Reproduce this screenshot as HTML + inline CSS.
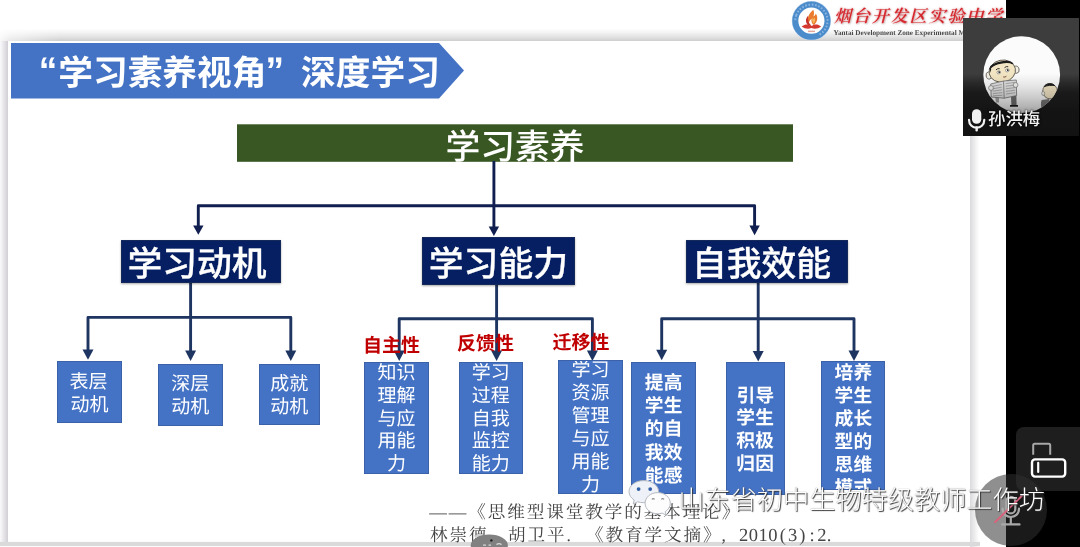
<!DOCTYPE html>
<html lang="zh-CN">
<head>
<meta charset="utf-8">
<title>学习素养视角 深度学习</title>
<style>
html,body{margin:0;padding:0;}
html{width:1080px;height:547px;overflow:hidden;background:#fff;}
body{width:1080px;height:547px;overflow:hidden;position:relative;background:#fff;
  font-family:"Liberation Sans","Noto Sans CJK SC",sans-serif;color:#fff;text-rendering:geometricPrecision;}
.abs{position:absolute;}
/* top strip behind logo */
#topstrip{left:0;top:0;width:1006px;height:40.6px;background:linear-gradient(#fff 0,#fff 28.5px,#f3f3f3 32.5px,#e2e2e2 37px,#d0d0d0 40.6px);}
#tlfade{left:0;top:26px;width:60px;height:14.6px;background:linear-gradient(90deg,rgba(255,255,255,.85) 0,rgba(255,255,255,.55) 10px,rgba(255,255,255,0) 60px);}
#lband{left:0;top:40.6px;width:8.3px;height:503px;background:linear-gradient(90deg,#faf9fb 0,#e6e4e8 4px,#cfcdd2 8.3px);}
#rband{left:970px;top:40.6px;width:9.6px;height:506.4px;background:linear-gradient(90deg,#dad9dc 0,#e6e5e7 3px,#fbfbfb 8px,#fff 9.6px);}
#bband{left:0;top:542.4px;width:1006px;height:3.6px;background:#dadada;box-shadow:0 0 1px #dadada;}
/* slide card */
#slide{left:8.3px;top:40.6px;width:961.7px;height:502px;background:#fff;}
#rightwhite{left:979.6px;top:40.6px;width:26.4px;height:506.4px;background:#fff;}
#black{left:1006px;top:0;width:74px;height:547px;background:#000;}
/* boxes */
.l2{-webkit-text-stroke:.3px #fff;background:#061f62;border:1px solid #15295a;box-sizing:border-box;color:#fff;font-size:34.8px;font-weight:500;line-height:40px;text-align:center;white-space:nowrap;
  box-shadow:0 1px 2px rgba(0,0,0,.35);}
.l3{background:#4472c4;border:1px solid #3b62a8;box-sizing:border-box;color:#fff;font-size:19px;line-height:22.9px;
  text-align:center;overflow:hidden;}
.l3.b{font-weight:bold;font-size:18.7px;letter-spacing:.3px;text-indent:.3px;}
.red{color:#c00000;font-weight:bold;font-size:19px;line-height:20px;white-space:nowrap;}
.cite{font-family:"Liberation Serif","Noto Serif CJK SC",serif;color:#454545;font-size:17.6px;line-height:18px;white-space:nowrap;letter-spacing:1.9px;}
.cite i{font-style:normal;display:inline-block;width:19.5px;text-align:left;letter-spacing:0;}
.cite .n{font-size:18.5px;letter-spacing:.5px;}
.cite .n i{width:9.75px;text-align:center;}

#tile{left:963px;top:18px;width:116px;height:118px;background:#3d3d3d;overflow:hidden;}
#tilegrad1{left:0;top:0;width:116px;height:118px;background:linear-gradient(rgba(0,0,0,0) 0,rgba(0,0,0,0) 56px,rgba(0,0,0,.25) 64px,rgba(0,0,0,.5) 74px,rgba(0,0,0,.54) 118px);}
#tilegrad{left:0;top:0;width:116px;height:118px;background:linear-gradient(rgba(0,0,0,0) 0,rgba(0,0,0,0) 55px,rgba(0,0,0,.08) 67px,rgba(0,0,0,.17) 77px,rgba(0,0,0,.27) 87px,rgba(0,0,0,.33) 92px,rgba(0,0,0,.36) 118px);}
#uname{left:25px;top:90.5px;font-size:17.4px;font-weight:500;line-height:20px;color:#f2f2f2;text-shadow:0 0 2px rgba(0,0,0,.85),0 0 3px rgba(0,0,0,.6);white-space:nowrap;}
#logotxt{left:834px;top:5px;font-family:"Liberation Serif","Noto Serif CJK SC",serif;font-weight:600;font-style:italic;font-size:17px;line-height:24px;color:#d5272e;white-space:nowrap;letter-spacing:1.9px;text-shadow:0 0 2px rgba(225,110,110,.9),1px 1px 2px rgba(120,120,120,.45);}
#logoen{left:833.5px;top:29px;font-family:"Liberation Serif",serif;font-weight:bold;font-size:7.2px;line-height:9px;color:#4a4a4a;white-space:nowrap;}
#wm{left:678.3px;top:484px;font-size:26.2px;line-height:32px;font-weight:300;color:#fff;white-space:nowrap;letter-spacing:0;
  text-shadow:1px 1px 1px rgba(45,45,45,.95),0 0 1px rgba(80,80,80,.75);}
#sharebtn{left:1016px;top:427px;width:64px;height:64px;border-radius:8px 0 0 8px;background:#1e1e1e;}
#micbtn{left:974.5px;top:473.5px;width:72px;height:72px;border-radius:50%;background:rgba(48,48,48,.54);}
</style>
</head>
<body>
<div class="abs" id="topstrip"></div>
<div class="abs" id="tlfade"></div>
<div class="abs" id="lband"></div>
<div class="abs" id="rband"></div>
<div class="abs" id="slide"></div>
<div class="abs" id="bband"></div>
<div class="abs" id="rightwhite"></div>
<div class="abs" id="black"></div>

<div class="abs" id="fx" style="left:0;top:0;width:1080px;height:547px;overflow:hidden;filter:blur(.55px);">
<!-- shapes: banner, green bar, connectors -->
<svg class="abs" style="left:0;top:0" width="1080" height="547" viewBox="0 0 1080 547">
  <polygon points="11,43 439,43 464,70.5 439,98.5 11,98.5" fill="#4472c4"/>
  <rect x="237" y="124.3" width="556" height="37.5" fill="#385723"/>
  <g fill="none" stroke="#111f50" stroke-width="2.9" stroke-linejoin="round">
    <!-- level 1 -> level 2 -->
    <path d="M493.9 161 V228"/>
    <path d="M198.3 228 V205.8 H754.6 V228"/>
  </g>
  <g fill="none" stroke="#1f3561" stroke-width="2.9" stroke-linejoin="round">
    <!-- level 2 -> level 3 left -->
    <path d="M190.6 282 V352"/>
    <path d="M88 351 V317.4 H290.8 V352"/>
    <!-- middle -->
    <path d="M496.6 285 V352"/>
    <path d="M399.2 352 V318.7 H592.4 V352"/>
    <!-- right -->
    <path d="M758.2 283 V352"/>
    <path d="M661.7 351 V318.7 H854 V352"/>
  </g>
  <g fill="#111f50">
    <polygon points="488.7,226.6 499.1,226.6 493.9,236"/>
    <polygon points="193.1,225.4 203.5,225.4 198.3,234.8"/>
    <polygon points="749.4,225.6 759.8,225.6 754.6,235.2"/>
  </g>
  <g fill="#1f3561">
    <polygon points="82.5,349.6 93.5,349.6 88,359.8"/>
    <polygon points="185.1,350.6 196.1,350.6 190.6,361"/>
    <polygon points="285.3,350.6 296.3,350.6 290.8,361"/>
    <polygon points="393.7,350.6 404.7,350.6 399.2,361"/>
    <polygon points="491.1,350.6 502.1,350.6 496.6,361"/>
    <polygon points="586.9,350.6 597.9,350.6 592.4,361"/>
    <polygon points="656.2,349.8 667.2,349.8 661.7,360.2"/>
    <polygon points="752.7,351 763.7,351 758.2,361.5"/>
    <polygon points="848.5,350.6 859.5,350.6 854,361"/>
  </g>
</svg>

<!-- title -->
<div class="tx abs" id="title" style="left:23.6px;top:51.5px;height:44px;line-height:44px;font-size:34.7px;font-weight:bold;white-space:nowrap;"><span style="display:inline-block;width:34.7px;text-align:right;position:relative;top:-1.8px;left:-1px;font-size:37px;line-height:0;">“</span>学习素养视角<span style="display:inline-block;width:34.7px;text-align:left;position:relative;top:-1.8px;left:-1px;font-size:37px;line-height:0;">”</span>深度学习</div>

<div class="tx abs" id="root" style="left:237px;top:126.5px;width:556px;height:38px;line-height:41px;font-size:34.8px;font-weight:500;text-align:center;">学习素养</div>

<div id="tl1" class="tx abs l2" style="left:120.5px;top:240px;width:160px;height:42.5px;line-height:47px;text-indent:-7px;">学习动机</div>
<div id="tl2" class="tx abs l2" style="left:421.8px;top:236.8px;width:153.2px;height:48.6px;line-height:53px;text-indent:0px;">学习能力</div>
<div id="tl3" class="tx abs l2" style="left:685.5px;top:240px;width:162px;height:43px;line-height:47px;text-indent:-10px;">自我效能</div>

<!-- level 3 left -->
<div id="tb4" class="tx abs l3" style="left:57px;top:361px;width:65px;height:62px;padding-top:9.8px;text-indent:-2px;">表层<br>动机</div>
<div id="tb5" class="tx abs l3" style="left:158px;top:363.5px;width:64.5px;height:62px;padding-top:9.5px;">深层<br>动机</div>
<div id="tb6" class="tx abs l3" style="left:258.5px;top:363.5px;width:61.5px;height:61.5px;padding-top:9.5px;">成就<br>动机</div>

<!-- level 3 middle -->
<div id="tb7" class="tx abs l3" style="left:364.3px;top:361.7px;width:64.6px;height:112.5px;padding-top:0;">知识<br>理解<br>与应<br>用能<br>力</div>
<div id="tb8" class="tx abs l3" style="left:458.8px;top:361.7px;width:64px;height:112.5px;padding-top:0;">学习<br>过程<br>自我<br>监控<br>能力</div>
<div id="tb9" class="tx abs l3" style="left:558px;top:360.3px;width:65px;height:133.3px;padding-top:0;"><div style="margin-top:-1px">学习<br>资源<br>管理<br>与应<br>用能<br>力</div></div>

<!-- level 3 right -->
<div id="tb10" class="tx abs l3 b" style="left:631px;top:361.7px;width:65.4px;height:132.5px;padding-top:8.3px;line-height:23.25px;">提高<br>学生<br>的自<br>我效<br>能感</div>
<div id="tb11" class="tx abs l3 b" style="left:726px;top:362.2px;width:58.5px;height:132.5px;padding-top:21.4px;line-height:22.8px;">引导<br>学生<br>积极<br>归因</div>
<div id="tb12" class="tx abs l3 b" style="left:821.4px;top:360.8px;width:64px;height:129px;padding-top:0;line-height:23px;"><div style="margin-top:-1.2px">培养<br>学生<br>成长<br>型的<br>思维<br>模式</div></div>

<!-- red labels -->
<div id="tr13" class="tx abs red" style="left:363px;top:336.5px;">自主性</div>
<div id="tr14" class="tx abs red" style="left:457px;top:335px;">反馈性</div>
<div id="tr15" class="tx abs red" style="left:552.5px;top:333.8px;">迁移性</div>

<!-- citation -->
<div id="tc16" class="tx abs cite" style="left:429.3px;top:503.2px;">——《思维型课堂教学的基本理论》</div>
<div id="tc17" class="tx abs cite" style="left:430.1px;top:526px;">林崇德<i>,</i>胡卫平<i>.</i>《教育学文摘》<i style="width:16.5px;text-indent:-1px">,</i><span class="n">2010<i>(</i><i>3</i><i>)</i><i>:</i><i>2</i><i style="text-align:left">.</i></span></div>

<!-- school logo -->
<svg class="abs" style="left:790px;top:0" width="44" height="42" viewBox="790 0 44 42">
  <circle cx="811.4" cy="20.7" r="19.6" fill="#b9d3ee"/>
  <circle cx="811.4" cy="20.7" r="16.1" fill="#fff" stroke="#4c8ccb" stroke-width="6"/>
  <circle cx="811.4" cy="20.7" r="16.1" fill="none" stroke="#8bb6e2" stroke-width="2" stroke-dasharray="1.6 1.7" transform="rotate(-160 811.4 20.7)" pathLength="100" stroke-dashoffset="0" style="stroke-dasharray:1.6 1.7 1.6 1.7 1.6 1.7 1.6 1.7 1.6 1.7 1.6 1.7 1.6 1.7 1.6 1.7 1.6 1.7 1.6 1.7 1.6 1.7 1.6 1.7 1.6 1.7 1.6 1.7 1.6 1.7 1.6 1.7 1.6 1.7 1.6 1.7 1.6 34"/>
  <path d="M813.3 9.8 C808.8 13.5 806.6 18 808.6 23.4 C809.4 21 810.4 19.6 811.6 18.8 C811 21.2 811.8 23.4 813.6 25 C817.6 22 818.4 17.4 815.8 13.4 C815.2 15.2 814.4 16 813.5 16.4 C814.2 14 814.2 11.8 813.3 9.8 Z" fill="#ea7a2e"/>
  <path d="M812.9 17 C811.7 19.2 812 21.8 813.6 23.6 C815.4 21.8 815.6 19.4 814.4 17.6 C814 18.6 813.5 19 813.1 19.2 Z" fill="#f6b85a"/>
  <path d="M808.2 15.8 C805.4 18.4 805.2 22.2 807.8 25 C808.8 25.8 810.4 26 811.4 25.6 C808.6 23.6 807.6 19.6 808.2 15.8 Z" fill="#c4332c"/>
  <path d="M801.6 26.6 C805 23.6 808.8 24 811.4 26 C814 24 817.8 23.6 821.2 26.6 C817.8 29 814.4 29.4 811.4 28 C808.4 29.4 805 29 801.6 26.6 Z" fill="#d43a30"/>
  <rect x="808" y="30.6" width="7" height="1.5" fill="#e3a79a"/>
</svg>
<div class="tx abs" id="logotxt">烟台开发区实验中学</div>
<div class="abs" id="logoen">Yantai Development Zone Experimental Middle School</div>

<!-- video tile -->
<div class="abs" id="tile">
  <div class="abs" id="tilegrad1"></div>
  <svg class="abs" style="left:0;top:0" width="116" height="118" viewBox="963 18 116 118">
    <defs><clipPath id="avc"><circle cx="1021.7" cy="74.7" r="38.4"/></clipPath></defs>
    <circle cx="1021.7" cy="74.7" r="38.4" fill="#fbfbfb"/>
    <g clip-path="url(#avc)">
      <!-- big guy -->
      <g transform="rotate(-12 1002.3 71.1)">
        <ellipse cx="988.4" cy="72.6" rx="2.9" ry="3.6" fill="#f1efe6" stroke="#5e594e" stroke-width=".8"/>
        <ellipse cx="1016.2" cy="72.6" rx="2.9" ry="3.6" fill="#f1efe6" stroke="#5e594e" stroke-width=".8"/>
        <ellipse cx="1002.3" cy="71.1" rx="13.3" ry="11" fill="#f2e5c3" stroke="#5e594e" stroke-width=".9"/>
        <path d="M990.6 66.2 C992.8 60.6 1011.6 60.4 1014 66 C1011 63.6 1006.5 63 1002.3 63.1 C998 63 993.6 63.8 990.6 66.2 Z" fill="#1d1d1d" stroke="#1d1d1d" stroke-width="1.2" stroke-linejoin="round"/>
        <path d="M990.4 66 L990.6 70.4 L992 66.4 Z" fill="#1d1d1d"/>
        <path d="M996.4 68.6 q1.8 -1.3 3.8 -.4 M1005.2 68.2 q1.9 -1.2 3.8 -.2" stroke="#2a2a2a" stroke-width=".9" fill="none"/>
        <ellipse cx="998.6" cy="71.6" rx="1.9" ry="1.5" fill="#fff" stroke="#555" stroke-width=".5"/>
        <ellipse cx="1007.4" cy="71.4" rx="1.9" ry="1.5" fill="#fff" stroke="#555" stroke-width=".5"/>
        <circle cx="999" cy="71.5" r=".85" fill="#1d1d1d"/><circle cx="1007.8" cy="71.3" r=".85" fill="#1d1d1d"/>
        <path d="M1002 77 q1.6 1 3.2 0" stroke="#7a4a3a" stroke-width=".9" fill="none"/>
      </g>
      <!-- legs -->
      <path d="M1011 96.5 L1011.4 105.2 L1016.6 105.2 L1016.4 95.6 Z" fill="#6e6e6e"/>
      <path d="M995.2 97 L996 102.6 L999 102.6 L999 97.4 Z" fill="#a4a4a4"/>
      <path d="M1010 105 h8 v1.7 h-8 Z" fill="#1d1d1d"/>
      <!-- newspaper -->
      <path d="M990.7 84 L1003.5 81 L1016.3 80 L1016.6 95.6 L1004.2 98.2 L991.2 97 Z" fill="#e2e2e2" stroke="#6f6f6f" stroke-width=".8" stroke-linejoin="round"/>
      <path d="M1003.5 81 L1004.2 98.2" stroke="#777" stroke-width=".8"/>
      <path d="M992.6 86.4 l9.2 -2 M992.7 88.8 l9.2 -1.7 M992.8 91.2 l9.2 -1.4 M992.9 93.6 l9.4 -1 M993 95.8 l9.4 -.5 M1005.6 83.6 l9.2 -1.2 M1005.7 86.2 l9.2 -1.2 M1005.8 88.8 l9.2 -1.2 M1005.9 91.4 l9.2 -1.2 M1006 94 l9.2 -1.3" stroke="#9c9c9c" stroke-width=".8"/>
      <circle cx="991" cy="88" r="2.4" fill="#f3f3f0" stroke="#666" stroke-width=".6"/>
      <circle cx="1015.6" cy="85" r="2.4" fill="#f3f3f0" stroke="#666" stroke-width=".6"/>
      <!-- small guy -->
      <path d="M1041.6 100 C1040.6 103 1041 106 1041.6 109 L1051 109 C1051 105.4 1050.4 102 1049 99 Z" fill="#767676"/>
      <ellipse cx="1050" cy="91.2" rx="7.3" ry="7.6" fill="#f0e3c3" stroke="#5e594e" stroke-width=".8"/>
      <path d="M1044.2 86.6 C1046 83 1052.4 82.8 1054.6 85.6 C1051.4 85 1047.4 85.4 1044.2 86.6 Z" fill="#1d1d1d" stroke="#1d1d1d" stroke-width="1"/>
      <ellipse cx="1043.2" cy="93.4" rx="1.5" ry="2.1" fill="#f1efe6" stroke="#666" stroke-width=".5"/>
    </g>
  </svg>
  <div class="abs" id="tilegrad"></div>
  <svg class="abs" style="left:0;top:86px" width="30" height="30" viewBox="963 104 30 30">
    <rect x="972" y="109.2" width="9.3" height="14.6" rx="4.6" fill="#f2f2f2"/>
    <path d="M969 119.8 C969 130.3 984.3 130.3 984.3 119.8" fill="none" stroke="#f2f2f2" stroke-width="2.2" stroke-linecap="round"/>
    <path d="M976.65 127.5 V130.3" stroke="#f2f2f2" stroke-width="2.4" stroke-linecap="round"/>
  </svg>
  <div class="tx abs" id="uname">孙洪梅</div>
</div>

<!-- bottom-right controls -->
<div class="abs" id="sharebtn"></div>
<svg class="abs" style="left:1016px;top:427px" width="64" height="64" viewBox="1016 427 64 64">
  <path d="M1033.2 454.8 V445.2 Q1033.2 443.7 1034.7 443.7 H1048.7 Q1050.2 443.7 1050.2 445.2 V454.8" fill="none" stroke="#a8a8a8" stroke-width="2"/>
  <rect x="1032" y="459.4" width="33.2" height="17.2" rx="3" fill="none" stroke="#fff" stroke-width="2.4"/>
  <path d="M1038.2 462.8 V472" stroke="#fff" stroke-width="2.2" stroke-linecap="round"/>
</svg>
<div class="abs" id="micbtn"></div>
<svg class="abs" style="left:974px;top:473px" width="74" height="74" viewBox="974 473 74 74">
  <g fill="none" stroke="#a9a9a9" stroke-width="2.2" stroke-linecap="round">
    <rect x="1006.3" y="496.8" width="9" height="16.6" rx="4.5"/>
    <path d="M1002.6 508.5 C1002.6 519.8 1019 519.8 1019 508.5"/>
    <path d="M1010.8 517.5 V523.6"/>
    <path d="M1002.2 524.4 H1019.4" stroke-width="2.4"/>
  </g>
  <path d="M995 522.2 L1022.2 495.5" stroke="#d9627c" stroke-width="1.9" stroke-linecap="round"/>
</svg>

<!-- small floating dot button at bottom -->
<svg class="abs" style="left:466px;top:528px" width="48" height="19" viewBox="466 528 48 19">
  <ellipse cx="489.3" cy="545.4" rx="18.6" ry="10.8" fill="#818181"/>
  <circle cx="491.4" cy="540.4" r="1.2" fill="#1c1c1c"/>
  <path d="M483 545.2 h3 M488.5 545.2 h2.5 M496.5 544.6 q2.5 -1.8 5 0" stroke="#d8d8d8" stroke-width="1.3" fill="none"/>
</svg>

<!-- wechat watermark -->
<svg class="abs" style="left:624px;top:476px" width="52" height="42" viewBox="624 476 52 42">
  <g stroke="#b4b8c0" stroke-width="1">
    <path d="M643.8 480.6 C635.6 480.6 629 485.5 629 491.6 C629 495 631 498 634.2 500 L633.2 504 L637.6 501.8 C639.5 502.4 641.6 502.7 643.8 502.7 C652 502.7 658.6 497.7 658.6 491.6 C658.6 485.5 652 480.6 643.8 480.6 Z" fill="#eef2f8"/>
    <path d="M657.7 492.6 C650.7 492.6 645.1 497.3 645.1 503.2 C645.1 509.1 650.7 513.8 657.7 513.8 C659.3 513.8 660.8 513.6 662.2 513.1 L666.2 515.2 L665.2 511.7 C668.3 509.8 670.3 506.7 670.3 503.2 C670.3 497.3 664.7 492.6 657.7 492.6 Z" fill="#fdfdfd"/>
  </g>
  <circle cx="638.6" cy="489.1" r="1.9" fill="#335fa6"/><circle cx="650.2" cy="489.1" r="1.9" fill="#335fa6"/>
  <path d="M651.8 499.4 q1.4 -1.5 2.8 0 M661.3 499.4 q1.4 -1.5 2.8 0" stroke="#8d8d8d" stroke-width="1.1" fill="none"/>
</svg>
<div class="tx abs" id="wm">山东省初中生物特级教师工作坊</div>

</div>
</body>
</html>
